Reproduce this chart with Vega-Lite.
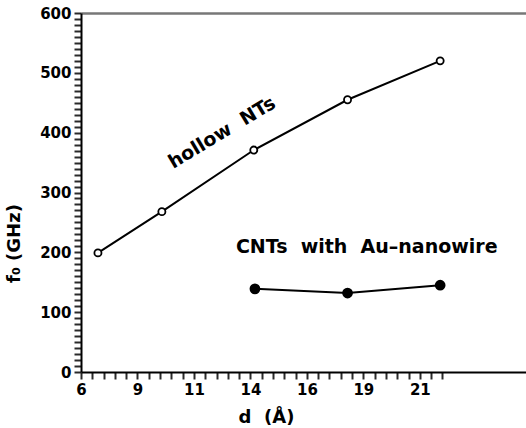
{
  "$schema": "https://vega.github.io/schema/vega-lite/v6.json",
  "autosize": {"type": "none"},
  "padding": {"left": 81, "top": 13, "right": 0, "bottom": 56},
  "width": 445,
  "height": 359,
  "background": "white",
  "config": {
    "view": {"stroke": null},
    "font": "DejaVu Sans",
    "axis": {"grid": false, "domainColor": "black", "labelColor": "black", "titleColor": "black", "labelFont": "DejaVu Sans", "labelFontWeight": "bold", "labelFontSize": 15, "titleFont": "DejaVu Sans", "titleFontWeight": "bold", "domainWidth": 2, "labelOverlap": false, "labelFlush": false}
  },
  "data": {"values": [
    {"series": "hollow NTs", "d": 6.75, "f": 199},
    {"series": "hollow NTs", "d": 9.58, "f": 268},
    {"series": "hollow NTs", "d": 13.65, "f": 371},
    {"series": "hollow NTs", "d": 17.8, "f": 455},
    {"series": "hollow NTs", "d": 21.9, "f": 520},
    {"series": "CNTs with Au-nanowire", "d": 13.7, "f": 139},
    {"series": "CNTs with Au-nanowire", "d": 17.8, "f": 132},
    {"series": "CNTs with Au-nanowire", "d": 21.9, "f": 145}
  ]},
  "resolve": {"axis": {"x": "independent", "y": "independent"}},
  "layer": [
    {
      "mark": {"type": "line", "color": "black", "strokeWidth": 2},
      "encoding": {
        "x": {"field": "d", "type": "quantitative", "scale": {"domain": [6, 25.7], "nice": false, "zero": false},
          "axis": {"orient": "bottom", "values": [6, 6.5, 7, 7.5, 8, 8.5, 9, 9.5, 10, 10.5, 11, 11.5, 12, 12.5, 13, 13.5, 14, 14.5, 15, 15.5, 16, 16.5, 17, 17.5, 18, 18.5, 19, 19.5, 20, 20.5, 21, 21.5, 22],
            "labelExpr": "(datum.value - 6) % 2.5 == 0 ? '' + round(datum.value) : ''",
            "ticks": true, "tickColor": "#2a2a2a", "tickWidth": 2, "tickSize": 7,
            "labelPadding": 3, "title": "d\u00a0\u00a0(Å)", "titleFontSize": 18, "titleX": 185, "titleY": 50, "titleAnchor": "middle", "titleBaseline": "alphabetic"}},
        "y": {"field": "f", "type": "quantitative", "scale": {"domain": [0, 600], "nice": false},
          "axis": {"orient": "left", "values": [0, 10, 20, 30, 40, 50, 60, 70, 80, 90, 100, 110, 120, 130, 140, 150, 160, 170, 180, 190, 200, 210, 220, 230, 240, 250, 260, 270, 280, 290, 300, 310, 320, 330, 340, 350, 360, 370, 380, 390, 400, 410, 420, 430, 440, 450, 460, 470, 480, 490, 500, 510, 520, 530, 540, 550, 560, 570, 580, 590, 600],
            "labelExpr": "datum.value % 100 == 0 ? '' + datum.value : ''",
            "ticks": true, "tickColor": "#2a2a2a", "tickWidth": 2, "tickSize": 7,
            "labelPadding": 3, "title": "f₀ (GHz)", "titleFontSize": 18, "titleX": -62, "titleY": 230, "titleAngle": -90, "titleAnchor": "middle", "titleBaseline": "alphabetic"}},
        "detail": {"field": "series"}
      }
    },
    {
      "mark": {"type": "point", "shape": "circle", "stroke": "black", "strokeWidth": 1.8, "opacity": 1},
      "encoding": {
        "x": {"field": "d", "type": "quantitative", "axis": null},
        "y": {"field": "f", "type": "quantitative", "axis": null},
        "fill": {"field": "series", "type": "nominal", "scale": {"domain": ["hollow NTs", "CNTs with Au-nanowire"], "range": ["white", "black"]}, "legend": null},
        "size": {"field": "series", "type": "nominal", "scale": {"domain": ["hollow NTs", "CNTs with Au-nanowire"], "range": [50, 80]}, "legend": null}
      }
    },
    {
      "data": {"values": [{"label": "hollow\u00a0\u00a0NTs", "d": 12.24, "f": 400}]},
      "mark": {"type": "text", "angle": -31, "fontSize": 19, "fontWeight": "bold", "color": "black", "align": "center", "baseline": "middle"},
      "encoding": {
        "x": {"field": "d", "type": "quantitative",
          "axis": {"orient": "top", "labels": false, "ticks": false, "domainColor": "#777777", "domainWidth": 2.5, "title": null}},
        "y": {"field": "f", "type": "quantitative", "axis": null},
        "text": {"field": "label"}
      }
    },
    {
      "data": {"values": [{"label": "CNTs\u00a0\u00a0with\u00a0\u00a0Au–nanowire", "d": 18.65, "f": 209}]},
      "mark": {"type": "text", "fontSize": 19, "fontWeight": "bold", "color": "black", "align": "center", "baseline": "middle"},
      "encoding": {
        "x": {"field": "d", "type": "quantitative", "axis": null},
        "y": {"field": "f", "type": "quantitative", "axis": null},
        "text": {"field": "label"}
      }
    }
  ]
}
